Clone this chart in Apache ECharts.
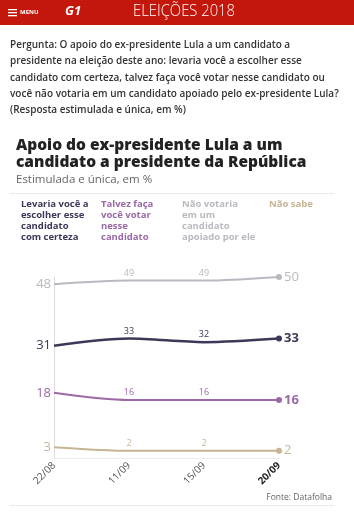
<!DOCTYPE html>
<html>
<head>
<meta charset="utf-8">
<script src="https://cdn.jsdelivr.net/npm/echarts@6/dist/echarts.min.js"></script>
<style>
  html, body { margin: 0; padding: 0; background: #fff; }
  #chart { width: 354px; height: 530px; }
</style>
</head>
<body>
<div id="chart"></div>
<script>
// datas das pesquisas
var dates = ['22/08', '11/09', '15/09', '20/09'];

// valores por resposta (%)
var levaria = [31, 33, 32, 33];
var talvez = [18, 16, 16, 16];
var naoVotaria = [48, 49, 49, 50];
var naoSabe = [3, 2, 2, 2];

var seriesNames = [
  'Levaria você a\nescolher esse\ncandidato\ncom certeza',
  'Talvez faça\nvocê votar\nnesse\ncandidato',
  'Não votaria\nem um\ncandidato\napoiado por ele',
  'Não sabe'
];
var seriesColors = ['#3b3858', '#9a69a6', '#b9b9c1', '#c6b594'];
var lastBold = [true, true, false, false];

var font = '"Open Sans", "Noto Sans", sans-serif';

function buildData(values, idx) {
  var last = values.length - 1;
  return values.map(function (v, i) {
    var item = { value: v, symbolSize: 0 };
    if (i === 0) {
      item.label = { show: true, position: 'left', distance: 3, fontSize: 13, color: seriesColors[idx], fontFamily: font };
    } else if (i === last) {
      item.symbolSize = 6;
      item.label = {
        show: true, position: 'right', distance: 2, fontSize: 13,
        fontWeight: lastBold[idx] ? 'bold' : 'normal',
        color: seriesColors[idx], fontFamily: font
      };
    } else {
      item.label = { show: true, position: 'top', distance: 3, fontSize: 9, color: seriesColors[idx], fontFamily: font };
    }
    return item;
  });
}

var chart = echarts.init(document.getElementById('chart'));

var option = {
  animation: false,
  backgroundColor: '#fff',
  title: [
    {
      text: 'Apoio do ex-presidente Lula a um\ncandidato a presidente da República',
      left: 16, top: 137, padding: 0,
      textStyle: { fontFamily: font, fontSize: 15.5, fontWeight: 800, color: '#222', lineHeight: 17 },
      subtext: 'Estimulada e única, em %',
      subtextStyle: { fontFamily: font, fontSize: 11.5, color: '#666' },
      itemGap: 3
    }
  ],
  graphic: [
    { type: 'rect', left: 0, top: 0, shape: { width: 354, height: 25 }, style: { fill: '#c4170c' } },
    { type: 'rect', left: 8, top: 9, shape: { width: 9, height: 1.3 }, style: { fill: '#fff' } },
    { type: 'rect', left: 8, top: 12, shape: { width: 9, height: 1.3 }, style: { fill: '#fff' } },
    { type: 'rect', left: 8, top: 15, shape: { width: 9, height: 1.3 }, style: { fill: '#fff' } },
    { type: 'text', left: 20, top: 9, style: { text: 'MENU', fill: '#fff', font: 'bold 6px ' + font } },
    { type: 'text', left: 65, top: 5, style: { text: 'G1', fill: '#fff', font: 'italic bold 13px ' + font } },
    { type: 'text', x: 133, y: 3, scaleX: 0.87, style: { text: 'ELEIÇÕES 2018', fill: '#fff', font: '300 17px ' + font } },
    {
      type: 'text', left: 10, top: 37,
      style: {
        text: 'Pergunta: O apoio do ex-presidente Lula a um candidato a\npresidente na eleição deste ano: levaria você a escolher esse\ncandidato com certeza, talvez faça você votar nesse candidato ou\nvocê não votaria em um candidato apoiado pelo ex-presidente Lula?\n(Resposta estimulada e única, em %)',
        fill: '#333', font: '600 10px ' + font, lineHeight: 16.3
      }
    },
    { type: 'rect', left: 10, top: 193, shape: { width: 324, height: 1 }, style: { fill: '#e8e8e8' } },
    { type: 'text', left: 21, top: 199, style: { text: seriesNames[0], fill: seriesColors[0], font: 'bold 9.5px ' + font, lineHeight: 11 } },
    { type: 'text', left: 101, top: 199, style: { text: seriesNames[1], fill: seriesColors[1], font: 'bold 9.5px ' + font, lineHeight: 11 } },
    { type: 'text', left: 182, top: 199, style: { text: seriesNames[2], fill: seriesColors[2], font: 'bold 9.5px ' + font, lineHeight: 11 } },
    { type: 'text', left: 269, top: 199, style: { text: seriesNames[3], fill: seriesColors[3], font: 'bold 9.5px ' + font, lineHeight: 11 } },
    { type: 'text', right: 22, top: 493, style: { text: 'Fonte: Datafolha', fill: '#666', font: '8.5px ' + font } },
    { type: 'rect', left: 10, top: 505, shape: { width: 324, height: 1 }, style: { fill: '#e8e8e8' } }
  ],
  grid: { left: 54, right: 75, top: 277, bottom: 72 },
  xAxis: {
    type: 'category',
    boundaryGap: false,
    data: dates.map(function (d, i) {
      return i === dates.length - 1
        ? { value: d, textStyle: { color: '#222', fontWeight: 'bold' } }
        : d;
    }),
    axisLine: { lineStyle: { color: '#ececec', width: 1 } },
    axisTick: { show: false },
    axisLabel: { rotate: 45, fontSize: 10, color: '#555', margin: 6, fontFamily: font, interval: 0 },
    splitLine: { show: false }
  },
  yAxis: {
    type: 'value',
    min: 0, max: 50,
    axisLine: { show: true, lineStyle: { color: '#dcdcdc', width: 1 } },
    axisTick: { show: false },
    axisLabel: { show: false },
    splitLine: { show: false }
  },
  series: [naoVotaria, levaria, talvez, naoSabe].map(function (vals, k) {
    var idx = [2, 0, 1, 3][k];
    return {
      name: seriesNames[idx],
      type: 'line',
      smooth: 0.3,
      symbol: 'circle',
      showAllSymbol: true,
      clip: false,
      lineStyle: { color: seriesColors[idx], width: idx === 0 ? 2.5 : 2 },
      itemStyle: { color: seriesColors[idx] },
      data: buildData(vals, idx)
    };
  })
};

chart.setOption(option);
</script>
</body>
</html>
